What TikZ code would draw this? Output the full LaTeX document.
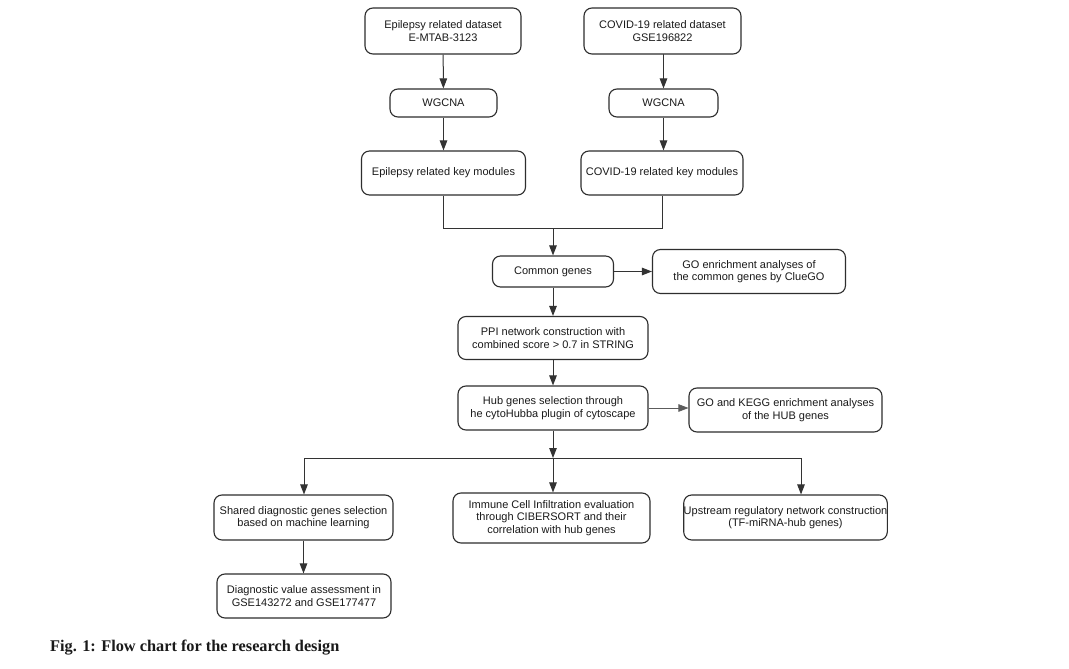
\documentclass[tikz,border=0pt]{standalone}
\usepackage{fontspec}
\setmainfont{Liberation Sans}
\newfontfamily\capfont{Liberation Serif}
\usetikzlibrary{arrows.meta}
\definecolor{boxc}{HTML}{2E2E2E}
\definecolor{linec}{HTML}{333333}
\definecolor{txt}{HTML}{1A1A1A}
\begin{document}
\begin{tikzpicture}[x=1pt,y=-1pt,
  box/.style={draw=boxc, line width=1.1pt, rounded corners=8pt, align=center,
    inner sep=0pt, text=txt, font=\fontsize{11}{12.5}\selectfont},
  arr/.style={draw=linec, line width=1pt, -{Triangle[length=10pt,width=7.5pt]}},
  thinarr/.style={draw=linec!80, line width=0.7pt, -{Triangle[length=10pt,width=7.5pt]}},
  ln/.style={draw=linec, line width=1pt}]
\fill[white] (0,0) rectangle (1069,669);
\useasboundingbox (0,0) rectangle (1069,669);

\node[box, minimum width=156pt, minimum height=46pt] (d1) at (443,31) {Epilepsy related dataset\\E-MTAB-3123};
\node[box, minimum width=157pt, minimum height=46pt] (d2) at (662.5,31) {COVID-19 related dataset\\GSE196822};
\node[box, minimum width=107pt, minimum height=28pt] (w1) at (443.5,103) {WGCNA};
\node[box, minimum width=109pt, minimum height=28pt] (w2) at (663.5,103) {WGCNA};
\node[box, minimum width=164pt, minimum height=44pt] (k1) at (443.5,173) {Epilepsy related key modules};
\node[box, minimum width=162pt, minimum height=44pt] (k2) at (662,173) {COVID-19 related key modules};

\coordinate (j1) at (553,228);
\node[box, minimum width=121pt, minimum height=31pt] (cg) at (553,271.5) {Common genes};
\node[box, minimum width=193pt, minimum height=44pt] (go1) at (749,271.5) {GO enrichment analyses of\\the common genes by ClueGO};
\node[box, minimum width=190pt, minimum height=43pt] (ppi) at (553,338) {PPI network construction with\\combined score > 0.7 in STRING};
\node[box, minimum width=190pt, minimum height=44pt] (hub) at (553,408) {Hub genes selection through\\he cytoHubba plugin of cytoscape};
\node[box, minimum width=193pt, minimum height=44pt] (gok) at (785.5,410) {GO and KEGG enrichment analyses\\of the HUB genes};

\coordinate (j2) at (553,458);
\coordinate (jl) at (304,458);
\coordinate (jr) at (801,458);
\node[box, minimum width=179pt, minimum height=45pt] (sh) at (303.5,517.5) {Shared diagnostic genes selection\\based on machine learning};
\node[box, minimum width=197pt, minimum height=50pt] (im) at (551.5,518) {Immune Cell Infiltration evaluation\\through CIBERSORT and their\\correlation with hub genes};
\node[box, minimum width=201pt, minimum height=45pt] (up) at (785.5,517.5) {Upstream regulatory network construction\\(TF-miRNA-hub genes)};
\node[box, minimum width=174pt, minimum height=44pt] (dv) at (304,596) {Diagnostic value assessment in\\GSE143272 and GSE177477};

\draw[arr] (d1) -- (w1);
\draw[arr] (d2) -- (w2 |- d2.south) -- (w2);
\draw[arr] (w1) -- (k1.north -| w1);
\draw[arr] (w2) -- (k2.north -| w2);
\draw[ln] (k1.south) |- (j1);
\draw[ln] (k2.south) |- (j1);
\draw[arr] (j1) -- (cg);
\draw[arr] (cg) -- (go1);
\draw[arr] (cg) -- (ppi);
\draw[arr] (ppi) -- (hub);
\draw[thinarr] (hub) -- (hub -| gok.west);
\draw[arr] (hub) -- (j2);
\draw[ln] (jl) -- (jr);
\draw[arr] (j2) -- (im.north -| j2);
\draw[arr] (jl) -- (sh.north -| jl);
\draw[arr] (jr) -- (up.north -| jr);
\draw[arr] (sh) -- (dv.north -| sh);

\node[anchor=base west, inner sep=0pt, font=\capfont\bfseries\fontsize{16.3}{18}\selectfont, text=txt] (cap) at (50,651) {Fig. 1: Flow chart for the research design};
\end{tikzpicture}
\end{document}
